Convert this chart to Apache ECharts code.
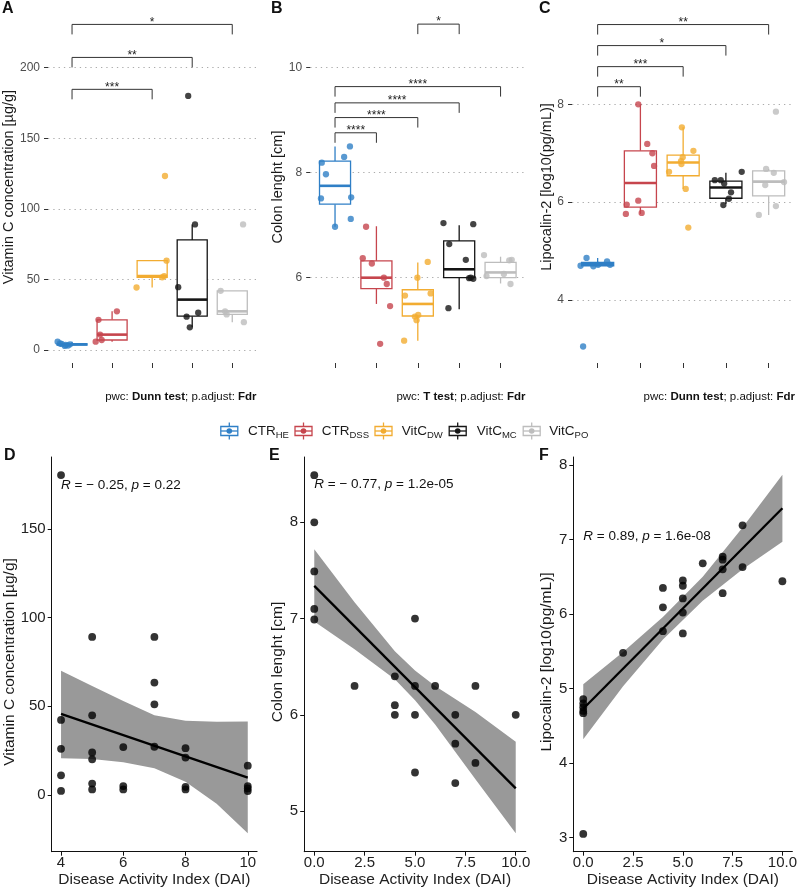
<!DOCTYPE html>
<html><head><meta charset="utf-8">
<script src="https://cdn.jsdelivr.net/npm/echarts@6/dist/echarts.min.js"></script>
<style>html,body{margin:0;padding:0;background:#fff}#c{width:800px;height:892px}</style>
</head><body><div id="c"></div>
<script>
// ---------------- DATA ----------------
const groups = ['CTR_HE', 'CTR_DSS', 'VitC_DW', 'VitC_MC', 'VitC_PO'];
const legendMain = ['CTR', 'CTR', 'VitC', 'VitC', 'VitC'];
const legendSub = ['HE', 'DSS', 'DW', 'MC', 'PO'];

// Panel A: Vitamin C concentration per group (values + jitter offsets)
const vitCVals = [
  [5.9, 4.6, 4.3, 3.6, 3.2, 2.9, 4.0],
  [27.4, 21.4, 10.9, 7.1, 5.9],
  [44.3, 51.5, 52.4, 63.3, 123.3],
  [180, 89, 44.5, 23.6, 26.4, 16.1],
  [89, 41.9, 27.4, 25.2, 19.7]
];
const vitCJit = [
  [-0.36, -0.30, -0.26, -0.16, -0.10, -0.18, -0.05],
  [0.12, -0.34, -0.30, -0.26, -0.41],
  [-0.39, 0.25, 0.30, 0.36, 0.32],
  [-0.10, 0.07, -0.35, -0.14, 0.15, -0.06],
  [0.27, -0.29, -0.18, -0.14, 0.29]
];
const vitCBox = [ // [lowWhisker, q1, median, q3, highWhisker]
  [2.9, 3.5, 4.0, 4.4, 5.9],
  [5.9, 7.1, 10.9, 21.4, 27.4],
  [44.3, 51.5, 52.4, 63.3, 63.3],
  [16.1, 24.0, 35.7, 78.0, 89.0],
  [19.7, 25.2, 27.4, 41.9, 41.9]
];
const vitCTicks = [0, 50, 100, 150, 200];
const bracketsA = [[1, 5, 230.7], [1, 4, 207.3], [1, 3, 184.7]];
const bracketsALabels = ['*', '**', '***'];

// Panel B: Colon length
const colonVals = [
  [8.19, 7.97, 7.51, 6.97, 8.30, 8.50, 7.53, 7.12],
  [6.97, 6.37, 6.27, 6.00, 5.88, 5.46, 4.74],
  [6.30, 6.00, 5.70, 5.66, 5.29, 5.26, 5.19, 4.80],
  [7.04, 7.02, 6.64, 6.34, 5.99, 5.98, 6.00, 5.42],
  [6.43, 6.03, 6.07, 6.34, 6.33, 5.88]
];
const colonJit = [
  [-0.32, -0.22, -0.34, 0.00, 0.22, 0.36, 0.39, 0.38],
  [-0.25, -0.33, -0.11, 0.18, 0.25, 0.33, 0.09],
  [0.24, -0.01, 0.31, -0.31, 0.01, -0.07, -0.03, -0.33],
  [-0.38, 0.34, -0.24, 0.16, 0.24, 0.34, 0.28, -0.26],
  [-0.40, -0.34, 0.08, 0.27, 0.21, 0.24]
];
const colonBox = [
  [6.97, 7.40, 7.75, 8.22, 8.50],
  [5.50, 5.79, 6.00, 6.32, 6.98],
  [4.80, 5.27, 5.50, 5.77, 6.29],
  [5.40, 6.00, 6.16, 6.70, 7.00],
  [5.89, 6.00, 6.10, 6.29, 6.40]
];
const colonTicks = [6, 8, 10];
const bracketsB = [[3, 4, 10.83], [1, 5, 9.64], [1, 4, 9.33], [1, 3, 9.05], [1, 2, 8.76]];
const bracketsBLabels = ['*', '****', '****', '****', '****'];

// Panel C: Lipocalin-2
const lcnVals = [
  [4.70, 4.86, 4.69, 4.72, 4.79, 4.72, 3.05],
  [8.00, 7.19, 7.00, 6.74, 5.95, 6.03, 5.76, 5.78],
  [7.53, 7.05, 6.92, 6.84, 6.78, 6.62, 6.27, 5.48],
  [6.45, 6.45, 6.38, 6.62, 6.20, 6.07, 5.94],
  [7.85, 6.68, 6.60, 6.41, 6.35, 5.92, 5.74]
];
const lcnJit = [
  [-0.40, -0.26, -0.10, 0.01, 0.22, 0.29, -0.34],
  [-0.05, 0.16, 0.28, 0.32, -0.32, -0.05, -0.34, 0.03],
  [-0.03, 0.24, -0.01, -0.05, -0.04, -0.33, 0.06, 0.12],
  [-0.26, -0.12, -0.04, 0.37, 0.12, 0.07, -0.06],
  [0.17, -0.06, 0.12, 0.36, -0.08, 0.17, -0.23]
];
const lcnBox = [
  [4.69, 4.70, 4.73, 4.77, 4.86],
  [5.76, 5.90, 6.39, 7.05, 8.00],
  [6.27, 6.54, 6.81, 6.96, 7.53],
  [5.96, 6.08, 6.30, 6.43, 6.60],
  [5.74, 6.13, 6.42, 6.64, 6.68]
];
const lcnTicks = [4, 6, 8];
const bracketsC = [[1, 5, 9.63], [1, 4, 9.20], [1, 3, 8.77], [1, 2, 8.36]];
const bracketsCLabels = ['**', '*', '***', '**'];

// Panel D: Vitamin C vs DAI
const daiD = [4,4,4,4,4, 5,5,5,5,5,5, 6,6,6, 7,7,7,7, 8,8,8,8, 10,10,10,10];
const vitCD = [180.4,42.3,26.0,11.1,2.3, 89.1,44.9,24.0,20.1,6.4,3.1, 27.0,5.0,3.1, 89.1,63.4,51.1,27.2, 26.4,21.1,4.6,3.1, 16.5,5.0,3.7,2.2];
const fitD = [[4, 45.7], [10, 9.8]];
const bandXD = [4, 5, 6, 7, 8, 9, 10];
const bandUD = [70.1, 61.5, 53.0, 45.0, 41.8, 41.3, 41.4];
const bandLD = [20.7, 20.3, 18.4, 15.0, 7.5, -5.0, -21.6];
const ticksXD = [4, 6, 8, 10];
const ticksYD = [0, 50, 100, 150];
const corD = {x: 4, y: 174.8, text: '{i|R} = − 0.25, {i|p} = 0.22'};

// Panel E: Colon length vs DAI
const daiE = [0,0,0,0,0, 2, 4,4,4, 5,5,5,5, 6, 7,7,7, 8,8, 10];
const colonE = [8.49,8.0,7.49,7.10,6.99, 6.30, 6.40,6.10,6.0, 7.0,6.30,6.0,5.40, 6.30, 6.0,5.70,5.29, 6.30,5.50, 6.0];
const fitE = [[0, 7.34], [10, 5.235]];
const bandXE = [0, 2, 4, 5, 6, 8, 10];
const bandUE = [7.72, 7.17, 6.66, 6.46, 6.30, 6.03, 5.72];
const bandLE = [6.97, 6.68, 6.37, 6.15, 5.90, 5.33, 4.77];
const ticksXE = [0, 2.5, 5, 7.5, 10];
const ticksYE = [5, 6, 7, 8];
const corE = {x: 0, y: 8.395, text: '{i|R} = − 0.77, {i|p} = 1.2e-05'};

// Panel F: Lipocalin-2 vs DAI
const daiF = [0,0,0,0,0,0, 2, 4,4,4, 5,5,5,5,5, 6, 7,7,7,7, 8,8, 10];
const lcnF = [4.86,4.80,4.75,4.70,4.67,3.05, 5.48, 6.35,6.09,5.77, 6.45,6.38,6.21,6.02,5.74, 6.68, 6.77,6.73,6.60,6.28, 7.19,6.63, 6.44];
const fitF = [[0, 4.73], [10, 7.42]];
const bandXF = [0, 2, 4, 6, 8, 10];
const bandUF = [5.06, 5.49, 5.96, 6.50, 7.16, 7.87];
const bandLF = [4.32, 5.03, 5.66, 6.18, 6.60, 6.97];
const ticksXF = [0, 2.5, 5, 7.5, 10];
const ticksYF = [3, 4, 5, 6, 7, 8];
const corF = {x: 0, y: 7.047, text: '{i|R} = 0.89, {i|p} = 1.6e-08'};

// ---------------- STYLE ----------------
const FONT = '"Liberation Sans", Arial, Helvetica, sans-serif';
const groupColors = ['#2F7FC6', '#C6454D', '#F2AC31', '#151515', '#BDBDBD'];

const chart = echarts.init(document.getElementById('c'), null, {renderer: 'canvas'});

function pointsData(vals, jit) {
  const out = [];
  vals.forEach((arr, g) => arr.forEach((v, j) => {
    out.push({value: [g + 1 + jit[g][j], v], itemStyle: {color: groupColors[g]}});
  }));
  return out;
}
function boxData(box) { return box.map((b, g) => [g + 1, b[0], b[1], b[2], b[3], b[4], g]); }

function boxRender(params, api) {
  const x = api.value(0);
  const c = groupColors[api.value(6)];
  const hw = api.size([0.75, 0])[0] / 2;
  const pMin = api.coord([x, api.value(1)]), pQ1 = api.coord([x, api.value(2)]);
  const pMd = api.coord([x, api.value(3)]), pQ3 = api.coord([x, api.value(4)]);
  const pMx = api.coord([x, api.value(5)]);
  const lw = 1.3;
  return {type: 'group', children: [
    {type: 'line', shape: {x1: pMx[0], y1: pMx[1], x2: pQ3[0], y2: pQ3[1]}, style: {stroke: c, lineWidth: lw}},
    {type: 'line', shape: {x1: pQ1[0], y1: pQ1[1], x2: pMin[0], y2: pMin[1]}, style: {stroke: c, lineWidth: lw}},
    {type: 'rect', shape: {x: pQ3[0] - hw, y: pQ3[1], width: 2 * hw, height: Math.max(pQ1[1] - pQ3[1], 0.5)},
      style: {fill: '#ffffff', stroke: c, lineWidth: lw}},
    {type: 'line', shape: {x1: pMd[0] - hw, y1: pMd[1], x2: pMd[0] + hw, y2: pMd[1]}, style: {stroke: c, lineWidth: 2.6}}
  ]};
}
function bracketRender(labels) {
  return function (params, api) {
    const y = api.value(2);
    const p1 = api.coord([api.value(0), y]), p2 = api.coord([api.value(1), y]);
    const tip = 10;
    return {type: 'group', children: [
      {type: 'polyline', shape: {points: [[p1[0], p1[1] + tip], [p1[0], p1[1]], [p2[0], p2[1]], [p2[0], p2[1] + tip]]},
        style: {stroke: '#333', lineWidth: 1, fill: 'none'}},
      {type: 'text', style: {text: labels[params.dataIndex], x: (p1[0] + p2[0]) / 2, y: p1[1] - 2,
        align: 'center', verticalAlign: 'middle', fontSize: 12, fill: '#222', fontFamily: FONT}}
    ]};
  };
}
function bandRender(bx, bu, bl) {
  return function (params, api) {
    if (params.dataIndex !== 0) return null;
    const pts = [];
    for (let i = 0; i < bx.length; i++) pts.push(api.coord([bx[i], bu[i]]));
    for (let i = bx.length - 1; i >= 0; i--) pts.push(api.coord([bx[i], bl[i]]));
    return {type: 'polygon', shape: {points: pts}, style: {fill: '#999999'}};
  };
}

const grids = [
  {left: 48, top: 11, width: 208.3, height: 352},
  {left: 310.2, top: 11, width: 215.2, height: 352},
  {left: 572, top: 11, width: 222.3, height: 352},
  {left: 51.7, top: 457, width: 205.4, height: 394.7},
  {left: 304.2, top: 457, width: 221.6, height: 394.7},
  {left: 573.3, top: 457, width: 221, height: 394.7}
];

function catX(gi) {
  return {type: 'value', gridIndex: gi, min: 0.4, max: 5.6,
    axisLine: {show: false, onZero: false},
    axisTick: {show: true, customValues: [1, 2, 3, 4, 5], length: 5, lineStyle: {color: '#333', width: 1}},
    axisLabel: {show: false}, splitLine: {show: false}};
}
function boxY(gi, min, max, ticks) {
  return {type: 'value', gridIndex: gi, min: min, max: max,
    axisLine: {show: false, onZero: false},
    axisTick: {show: true, customValues: ticks, length: 4, lineStyle: {color: '#333', width: 1}},
    axisLabel: {customValues: ticks, margin: 8, fontSize: 12, color: '#4d4d4d', fontFamily: FONT},
    splitLine: {show: true, lineStyle: {color: '#ababab', width: 1.1, type: [1.3, 4]}}};
}
function scX(gi, min, max, ticks, dec) {
  return {type: 'value', gridIndex: gi, min: min, max: max,
    axisLine: {show: true, onZero: false, lineStyle: {color: '#111', width: 1}},
    axisTick: {show: true, customValues: ticks, length: 4, lineStyle: {color: '#111', width: 1}},
    axisLabel: {customValues: ticks, margin: 4, fontSize: 15, color: '#222', fontFamily: FONT,
      formatter: v => dec ? Number(v).toFixed(1) : String(v)},
    splitLine: {show: false},
    name: 'Disease Activity Index (DAI)', nameLocation: 'middle', nameGap: 19,
    nameTextStyle: {fontSize: 15.5, color: '#222', fontFamily: FONT}};
}
function scY(gi, min, max, ticks) {
  return {type: 'value', gridIndex: gi, min: min, max: max,
    axisLine: {show: true, onZero: false, lineStyle: {color: '#111', width: 1}},
    axisTick: {show: true, customValues: ticks, length: 4, lineStyle: {color: '#111', width: 1}},
    axisLabel: {customValues: ticks, margin: 6, fontSize: 15, color: '#222', fontFamily: FONT},
    splitLine: {show: false}};
}

const xAxes = [catX(0), catX(1), catX(2),
  scX(3, 3.7, 10.3, ticksXD, false), scX(4, -0.5, 10.5, ticksXE, true), scX(5, -0.5, 10.5, ticksXF, true)];
const yAxes = [boxY(0, -9.21, 240.2, vitCTicks), boxY(1, 4.375, 11.08, colonTicks), boxY(2, 2.7125, 9.907, lcnTicks),
  scY(3, -32, 190.6, ticksYD), scY(4, 4.577, 8.679, ticksYE), scY(5, 2.812, 8.107, ticksYF)];

const series = [];
[[vitCVals, vitCJit, vitCBox, bracketsA, bracketsALabels],
 [colonVals, colonJit, colonBox, bracketsB, bracketsBLabels],
 [lcnVals, lcnJit, lcnBox, bracketsC, bracketsCLabels]].forEach((p, i) => {
  series.push({type: 'custom', xAxisIndex: i, yAxisIndex: i, renderItem: boxRender, data: boxData(p[2]), z: 2, clip: false, silent: true});
  series.push({type: 'scatter', xAxisIndex: i, yAxisIndex: i, data: pointsData(p[0], p[1]), symbolSize: 6.3, z: 3, silent: true});
  series.push({type: 'custom', xAxisIndex: i, yAxisIndex: i, renderItem: bracketRender(p[4]), data: p[3], z: 4, clip: false, silent: true});
});
[[daiD, vitCD, fitD, bandXD, bandUD, bandLD],
 [daiE, colonE, fitE, bandXE, bandUE, bandLE],
 [daiF, lcnF, fitF, bandXF, bandUF, bandLF]].forEach((p, k) => {
  const i = k + 3;
  series.push({type: 'custom', xAxisIndex: i, yAxisIndex: i, renderItem: bandRender(p[3], p[4], p[5]),
    data: p[3].map((x, j) => [x, p[4][j], p[5][j]]), z: 1, clip: true, silent: true});
  series.push({type: 'line', xAxisIndex: i, yAxisIndex: i, data: p[2], showSymbol: false, symbol: 'none',
    lineStyle: {color: '#000', width: 2.3}, z: 2, silent: true});
  series.push({type: 'scatter', xAxisIndex: i, yAxisIndex: i, data: p[0].map((x, j) => [x, p[1][j]]),
    symbolSize: 7.8, itemStyle: {color: '#000'}, z: 3, silent: true});
});

chart.setOption({
  animation: false,
  backgroundColor: '#ffffff',
  textStyle: {fontFamily: FONT},
  grid: grids,
  xAxis: xAxes,
  yAxis: yAxes,
  series: series
});

// ---------------- ANNOTATIONS (graphic) ----------------
const g = [];
function txt(x, y, text, opts) {
  g.push(Object.assign({type: 'text', x: x, y: y, silent: true,
    style: Object.assign({text: text, fontFamily: FONT, fill: '#1a1a1a'}, opts || {})}));
}
// Panel letters
[['A', 2, 9], ['B', 271, 9], ['C', 539, 9], ['D', 4, 456], ['E', 269, 456], ['F', 539, 456]].forEach(l =>
  txt(l[1], l[2], l[0], {fontSize: 16, fontWeight: 'bold', verticalAlign: 'middle', align: 'left', fill: '#111'}));

// y-axis titles (rotated)
[['Vitamin C concentration [µg/g]', 8.5, 187, 14.5],
 ['Colon lenght [cm]', 278, 187, 14.5],
 ['Lipocalin-2 [log10(pg/mL)]', 546.5, 187, 14.5],
 ['Vitamin C concentration [µg/g]', 9.5, 662, 15.5],
 ['Colon lenght [cm]', 278, 662, 15.5],
 ['Lipocalin-2 [log10(pg/mL)]', 547, 662, 15.5]].forEach(t => {
  g.push({type: 'text', x: t[1], y: t[2], rotation: Math.PI / 2, silent: true,
    style: {text: t[0], fontSize: t[3], fontFamily: FONT, fill: '#1a1a1a', align: 'center', verticalAlign: 'middle'}});
});

// pwc captions
const boldRich = {b: {fontWeight: 'bold', fontSize: 11.5, fontFamily: FONT, fill: '#111'}};
[['pwc: {b|Dunn test}; p.adjust: {b|Fdr}', 256.6], ['pwc: {b|T test}; p.adjust: {b|Fdr}', 525.5],
 ['pwc: {b|Dunn test}; p.adjust: {b|Fdr}', 795]].forEach(t => {
  g.push({type: 'text', x: t[1], y: 397, silent: true,
    style: {text: t[0], fontSize: 11.5, fontFamily: FONT, fill: '#111', align: 'right', verticalAlign: 'middle', rich: boldRich}});
});

// Legend
const legIconX = [229.3, 303.5, 383.5, 457.7, 531.7];
const legTextX = [248, 321.7, 401.7, 476.7, 549.3];
const legY = 431;
groups.forEach((name, i) => {
  const c = groupColors[i], cx = legIconX[i];
  g.push({type: 'line', silent: true, shape: {x1: cx, y1: legY - 8.5, x2: cx, y2: legY + 8.5}, style: {stroke: c, lineWidth: 1.3}});
  g.push({type: 'rect', silent: true, shape: {x: cx - 8.5, y: legY - 4.5, width: 17, height: 9}, style: {fill: '#fff', stroke: c, lineWidth: 1.3}});
  g.push({type: 'line', silent: true, shape: {x1: cx - 8.5, y1: legY, x2: cx + 8.5, y2: legY}, style: {stroke: c, lineWidth: 1.3}});
  g.push({type: 'circle', silent: true, shape: {cx: cx, cy: legY, r: 2.8}, style: {fill: c}});
  g.push({type: 'text', x: legTextX[i], y: legY, silent: true,
    style: {text: '{m|' + legendMain[i] + '}{s|' + legendSub[i] + '}', verticalAlign: 'middle', align: 'left',
      rich: {m: {fontSize: 13.5, fontFamily: FONT, fill: '#1a1a1a', lineHeight: 18, verticalAlign: 'middle'},
             s: {fontSize: 9.5, fontFamily: FONT, fill: '#1a1a1a', lineHeight: 11, verticalAlign: 'bottom'}}}});
});

// Correlation labels placed through the axes' scales
[[corD, 3], [corE, 4], [corF, 5]].forEach(c => {
  const p = chart.convertToPixel({gridIndex: c[1]}, [c[0].x, c[0].y]);
  g.push({type: 'text', x: p[0], y: p[1], silent: true,
    style: {text: c[0].text, fontSize: 13.5, fontFamily: FONT, fill: '#111', align: 'left', verticalAlign: 'middle',
      rich: {i: {fontStyle: 'italic', fontSize: 13.5, fontFamily: FONT, fill: '#111'}}}});
});

chart.setOption({graphic: g});
</script></body></html>
